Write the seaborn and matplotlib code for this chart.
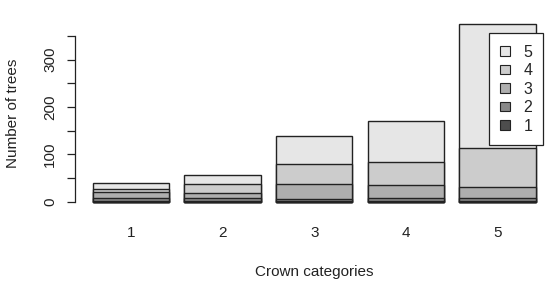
import numpy as np
import pandas as pd
import matplotlib
matplotlib.use("Agg")
import matplotlib.pyplot as plt
import matplotlib.patches as mpatches
import seaborn as sns

categories = ["1", "2", "3", "4", "5"]
class1 = [2, 3, 2, 3, 3]
class2 = [6, 5, 4, 5, 6]
class3 = [12, 10, 32, 27, 23]
class4 = [7, 19, 43, 50, 82]
class5 = [13, 20, 59, 86, 261]
series_names = ["1", "2", "3", "4", "5"]
colors = ["#4D4D4D", "#888888", "#AEAEAE", "#CCCCCC", "#E6E6E6"]

sns.set_theme(style="white")
plt.rcParams['font.family'] = ['Liberation Sans', 'DejaVu Sans']

series = [class1, class2, class3, class4, class5]
cum = np.cumsum(np.array(series), axis=0)

fig = plt.figure(figsize=(5.5, 2.81), dpi=100)
ax = fig.add_axes([0.1364, 0.256, 0.870, 0.684])

# draw from top layer down so lower segments overlay
for k in range(len(series) - 1, -1, -1):
    df = pd.DataFrame({"cat": categories, "val": cum[k]})
    sns.barplot(data=df, x="cat", y="val", color=colors[k], saturation=1,
                width=1 / 1.2, edgecolor="#222222", linewidth=1.0, ax=ax,
                order=categories)

ax.set_xlim(-0.61, 4.61)
ax.set_ylim(-15, 390)

for s in ["top", "right", "bottom"]:
    ax.spines[s].set_visible(False)
ax.spines["left"].set_bounds(0, 350)
ax.spines["left"].set_color("#222222")
ax.spines["left"].set_linewidth(0.9)

yt = np.arange(0, 351, 50)
ax.set_yticks(yt)
ax.set_yticklabels([str(v) if v % 100 == 0 else "" for v in yt],
                   rotation=90, va="center", fontsize=11, color="#222222")
ax.tick_params(axis="y", left=True, length=5.8, width=0.9, color="#222222", pad=7)
ax.tick_params(axis="x", bottom=False, length=0, pad=12, labelsize=11, labelcolor="#222222")

ax.set_xlabel("Crown categories", fontsize=11, color="#222222", labelpad=18)
ax.set_ylabel("Number of trees", fontsize=11, color="#222222", labelpad=17)

handles = [mpatches.Patch(facecolor=colors[k], edgecolor="#222222", linewidth=0.8,
                          label=series_names[k]) for k in range(4, -1, -1)]
leg = ax.legend(handles=handles, loc="upper left", bbox_to_anchor=(0.865, 0.914),
                borderaxespad=0, fancybox=False, frameon=True, fontsize=11.5,
                handlelength=0.6, handleheight=0.55, handletextpad=0.85,
                labelspacing=0.22, borderpad=0.7)
leg.get_frame().set_edgecolor("#222222")
leg.get_frame().set_linewidth(0.9)
leg.get_frame().set_alpha(1)

fig.savefig("out.png", dpi=100)
